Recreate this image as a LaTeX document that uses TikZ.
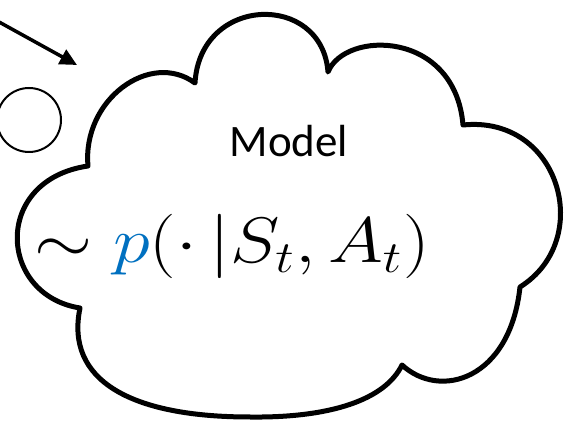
\documentclass[tikz,border=0pt]{standalone}
\usepackage{fontspec}
\newfontfamily\calib{Carlito}
\usetikzlibrary{arrows.meta}
\definecolor{mblue}{RGB}{0,112,192}
\begin{document}
\begin{tikzpicture}[x=1pt,y=-1pt,
  cloudline/.style={line width=5pt, line join=round},
  pointer/.style={line width=3.5pt, -{Triangle[length=17pt,width=16pt]}},
  statecircle/.style={circle, draw, line width=2pt, minimum size=64pt, inner sep=0pt}]
\useasboundingbox (0,0) rectangle (571,430);
% cloud
\coordinate (c1) at (88,166);
\coordinate (c2) at (195,83);
\coordinate (c3) at (328,72);
\coordinate (c4) at (463,125);
\coordinate (c5) at (520,287);
\coordinate (c6) at (402,365);
\coordinate (c7) at (80,308);
\draw[cloudline] (c1) .. controls (82,100) and (150,50) .. (c2)
  .. controls (200,-5) and (322,-8) .. (c3)
  .. controls (345,30) and (455,30) .. (c4)
  .. controls (560,115) and (595,240) .. (c5)
  .. controls (510,380) and (440,400) .. (c6)
  .. controls (385,400) and (330,418) .. (250,417)
  .. controls (130,417) and (65,380) .. (c7)
  .. controls (-2,295) and (-8,180) .. (c1) -- cycle;
% circle
\node[statecircle] (state) at (29,120) {};
% arrow
\coordinate (a0) at (-10,17);
\coordinate (a1) at (77,65);
\draw[pointer] (a0) -- (a1);
% texts
\node[font=\calib\fontsize{45}{54}\selectfont, anchor=base, inner sep=0pt] (model) at (289,157) {Model};
\node[font=\fontsize{22}{26}\selectfont, anchor=base, inner sep=0pt, xscale=3.6, yscale=3.1, transform shape] (formula) at (232,263) {$\sim {\color{mblue}p}(\cdot\,|S_t, A_t)$};
\end{tikzpicture}
\end{document}
